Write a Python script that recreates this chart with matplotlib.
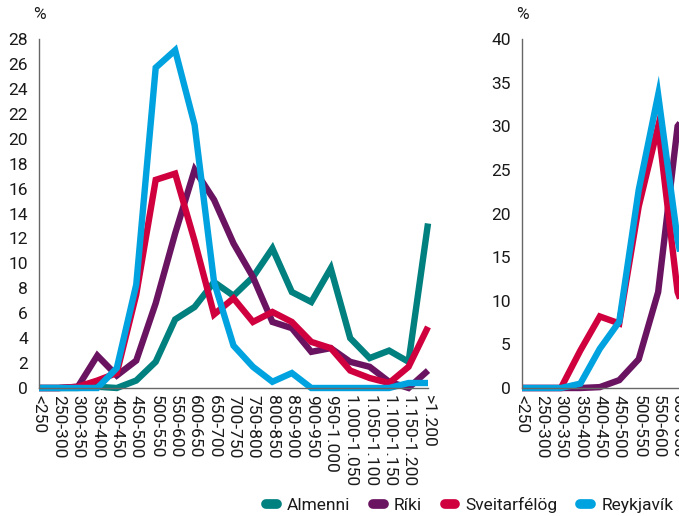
"""
Price distribution per category, two panels (right one cut off at the figure edge)
"""

import matplotlib.pyplot as plt
from matplotlib.lines import Line2D

# -----------------------------------------
# DATA
# -----------------------------------------

NaN = float("nan")

categories = ["<250", "250-300", "300-350", "350-400", "400-450", "450-500",
              "500-550", "550-600", "600-650", "650-700", "700-750", "750-800",
              "800-850", "850-900", "900-950", "950-1.000", "1.000-1.050",
              "1.050-1.100", "1.100-1.150", "1.150-1.200", ">1.200"]

series_names = ["Almenni", "Ríki", "Sveitarfélög", "Reykjavík"]

# left panel
left_almenni = [0, 0, 0, 0.1, 0, 0.6, 2.1, 5.5, 6.5, 8.5, 7.4, 8.9, 11.2, 7.7, 6.9,
                9.6, 4.0, 2.4, 3.0, 2.1, 13.2]
left_riki = [0, 0, 0.1, 2.6, 1.0, 2.2, 6.8, 12.4, 17.5, 15.1, 11.6, 8.9, 5.3, 4.8,
             2.9, 3.2, 2.1, 1.7, 0.5, 0, 1.4]
left_sveitarf = [0, 0, 0.1, 0.6, 1.2, 7.5, 16.7, 17.2, 11.8, 5.9, 7.2, 5.3, 6.1,
                 5.3, 3.7, 3.2, 1.4, 0.8, 0.4, 1.7, 4.9]
left_reykjavik = [0, 0, 0, 0, 1.6, 8.3, 25.7, 27.1, 21.1, 8.5, 3.4, 1.7, 0.5, 1.2,
                  0, 0, 0, 0, 0, 0.4, 0.4]

# right panel (only the first part is visible in the reference)
right_almenni = [NaN, NaN, NaN, NaN, NaN, NaN, NaN, NaN, NaN, 0.5, 1.5, 3.0, 6.0,
                 9.0, 12.0, 10.0, 8.0, 6.0, 4.0, 3.0, 5.0]
right_riki = [0, 0, 0, 0, 0.1, 0.9, 3.3, 11.0, 30.0, 33.0, 12.0, 4.0, 2.0, 1.0,
              0.5, 0.5, 0.2, 0.1, 0, 0, 0.5]
right_sveitarf = [0, 0, 0, 4.3, 8.2, 7.4, 20.8, 30.0, 11.0, 5.0, 3.0, 2.0, 1.5,
                  1.0, 0.5, 0.5, 0.3, 0.2, 0.1, 0.1, 0.5]
right_reykjavik = [0, 0, 0, 0.5, 4.5, 7.6, 22.7, 33.6, 17.0, 6.0, 2.0, 1.0, 0.5,
                   0.3, 0, 0, 0, 0, 0, 0, 0.3]

# -----------------------------------------
# STYLE
# -----------------------------------------

COLORS = ["#00807E", "#6A1461", "#D0003F", "#00A3E0"]
plt.rcParams["font.family"] = ["Roboto", "DejaVu Sans"]
TEXT = "#1a1a1a"
FS = 12.5


def draw_panel(ax, data, ymax, ystep):
    x = list(range(len(categories)))
    for values, color in zip(data, COLORS):
        ax.plot(x, values, color=color, linewidth=4.6, clip_on=False,
                solid_joinstyle="miter", solid_capstyle="butt")
    ax.set_xlim(0, len(categories) - 1)
    ax.set_ylim(0, ymax)
    ax.set_yticks(range(0, ymax + 1, ystep))
    ax.set_xticks(x)
    ax.set_xticklabels(categories, rotation=-90, va="top", ha="center")
    ax.tick_params(length=0, labelsize=FS, colors=TEXT)
    ax.tick_params(axis="x", pad=5)
    ax.tick_params(axis="y", pad=8)
    for side in ["top", "right"]:
        ax.spines[side].set_visible(False)
    for side in ["left", "bottom"]:
        ax.spines[side].set_color("#666666")
        ax.spines[side].set_linewidth(1)
    ax.text(0, 1.05, "%", transform=ax.transAxes, fontsize=FS,
            color=TEXT, ha="center", va="bottom")


fig = plt.figure(figsize=(6.79, 5.16), dpi=100)
ax1 = fig.add_axes([39 / 679, 128 / 516, 389 / 679, 349 / 516])
ax2 = fig.add_axes([522 / 679, 128 / 516, 389 / 679, 349 / 516])

draw_panel(ax1, [left_almenni, left_riki, left_sveitarf, left_reykjavik], 28, 2)
draw_panel(ax2, [right_almenni, right_riki, right_sveitarf, right_reykjavik], 40, 5)

handles = [Line2D([0], [0], color=c, linewidth=7, solid_capstyle="round")
           for c in COLORS]
fig.legend(handles, series_names, loc="center", bbox_to_anchor=(0.692, 0.022),
           ncol=4, frameon=False, fontsize=FS, handlelength=0.6,
           handletextpad=0.6, columnspacing=1.3, labelcolor=TEXT)

fig.savefig("out.png", dpi=100)
